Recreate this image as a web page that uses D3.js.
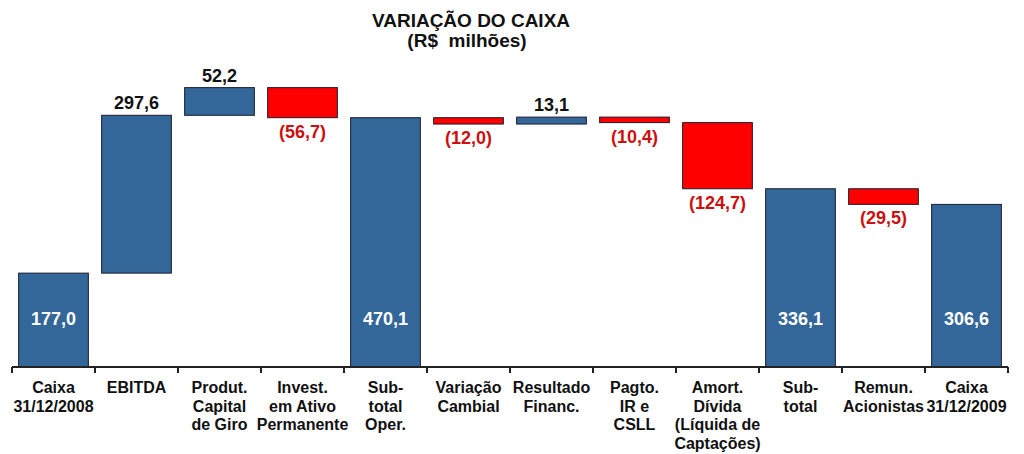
<!DOCTYPE html>
<html>
<head>
  <meta charset="UTF-8">
  <title>Variação do Caixa</title>
  <script src="https://d3js.org/d3.v7.min.js"></script>
  <style>
    body { margin: 0; background: #fff; }
    svg { font-family: "Liberation Sans", Arial, sans-serif; font-weight: bold; }
    .title { font-size: 19px; fill: #111; }
    .cat { font-size: 16px; fill: #111; }
    .val { font-size: 18px; }
    .bar { stroke: #1c1c2c; stroke-width: 1; }
  </style>
</head>
<body>
  <svg width="1024" height="454"></svg>

  <script>
    // categories, one entry per bar (label lines)
    const categories = [
      ["Caixa", "31/12/2008"],
      ["EBITDA"],
      ["Produt.", "Capital", "de Giro"],
      ["Invest.", "em Ativo", "Permanente"],
      ["Sub-", "total", "Oper."],
      ["Variação", "Cambial"],
      ["Resultado", "Financ."],
      ["Pagto.", "IR e", "CSLL"],
      ["Amort.", "Dívida", "(Líquida de", "Captações)"],
      ["Sub-", "total"],
      ["Remun.", "Acionistas"],
      ["Caixa", "31/12/2009"]
    ];
    const values = [177.0, 297.6, 52.2, -56.7, 470.1, -12.0, 13.1, -10.4, -124.7, 336.1, -29.5, 306.6];
    const isTotal = [true, false, false, false, true, false, false, false, false, true, false, true];

    const blue = "#336699";
    const red = "#ff0000";
    const redText = "#cc0f0f";

    const svg = d3.select("svg");

    // waterfall steps
    let running = 0;
    const bars = values.map((v, i) => {
      let y0, y1;
      if (isTotal[i]) {
        y0 = 0; y1 = v; running = v;
      } else {
        y0 = running; y1 = running + v; running = y1;
      }
      return { i: i, v: v, lo: Math.min(y0, y1), hi: Math.max(y0, y1), total: isTotal[i] };
    });

    const x = d3.scaleBand()
      .domain(d3.range(categories.length))
      .range([12, 1008])
      .padding(0);

    const y = d3.scaleLinear()
      .domain([0, 692])
      .range([367, 0]);

    const barPad = 0.08;
    const bw = x.bandwidth() * (1 - 2 * barPad);

    // title
    svg.append("text").attr("class", "title")
      .attr("x", 471).attr("y", 27).attr("text-anchor", "middle")
      .text("VARIAÇÃO DO CAIXA");
    svg.append("text").attr("class", "title")
      .attr("x", 467).attr("y", 47).attr("text-anchor", "middle")
      .attr("xml:space", "preserve")
      .style("white-space", "pre")
      .text("(R$  milhões)");

    // bars
    svg.append("g").selectAll("rect")
      .data(bars)
      .join("rect")
      .attr("class", "bar")
      .attr("x", d => x(d.i) + x.bandwidth() * barPad)
      .attr("width", bw)
      .attr("y", d => y(d.hi))
      .attr("height", d => y(d.lo) - y(d.hi))
      .attr("fill", d => (d.total || d.v >= 0) ? blue : red);

    const fmt = v => Math.abs(v).toFixed(1).replace(".", ",");

    // value labels
    svg.append("g").selectAll("text")
      .data(bars)
      .join("text")
      .attr("class", "val")
      .attr("text-anchor", "middle")
      .attr("x", d => x(d.i) + x.bandwidth() / 2)
      .attr("y", d => {
        if (d.total) return y(0) - 42;
        if (d.v >= 0) return y(d.hi) - 6;
        return y(d.lo) + 20;
      })
      .attr("fill", d => d.total ? "#fff" : (d.v >= 0 ? "#111" : redText))
      .text(d => d.total || d.v >= 0 ? fmt(d.v) : "(" + fmt(d.v) + ")");

    // axis line with ticks on band edges
    const axis = svg.append("g");
    axis.append("line")
      .attr("x1", x.range()[0]).attr("x2", x.range()[1])
      .attr("y1", y(0)).attr("y2", y(0))
      .attr("stroke", "#222").attr("stroke-width", 2);
    const edges = d3.range(categories.length + 1).map(i => x.range()[0] + i * x.step());
    axis.selectAll(".tick")
      .data(edges)
      .join("line")
      .attr("class", "tick")
      .attr("x1", d => d).attr("x2", d => d)
      .attr("y1", y(0)).attr("y2", y(0) + 6)
      .attr("stroke", "#222").attr("stroke-width", 2);

    // category labels
    const cat = svg.append("g").selectAll("text")
      .data(categories)
      .join("text")
      .attr("class", "cat")
      .attr("text-anchor", "middle")
      .attr("x", (d, i) => x(i) + x.bandwidth() / 2)
      .attr("y", 393);
    cat.selectAll("tspan")
      .data(d => d)
      .join("tspan")
      .attr("x", function () { return d3.select(this.parentNode).attr("x"); })
      .attr("dy", (d, j) => j === 0 ? 0 : 18.5)
      .text(d => d);
  </script>
</body>
</html>
